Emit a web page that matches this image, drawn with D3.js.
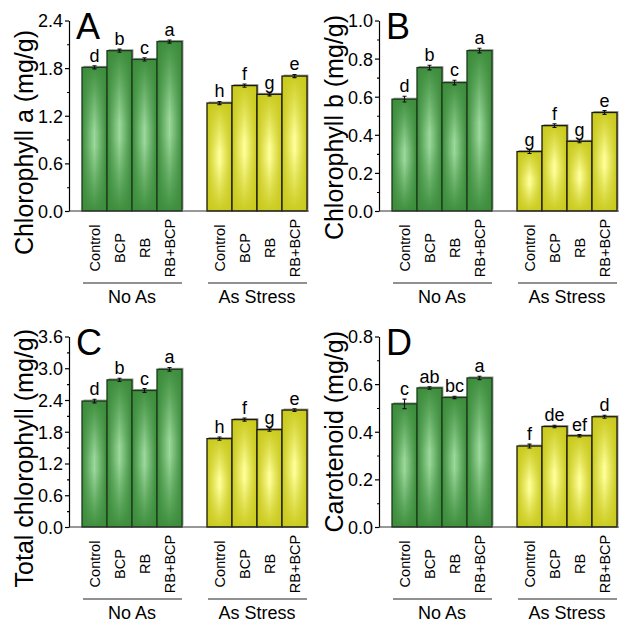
<!DOCTYPE html>
<html>
<head>
<meta charset="utf-8">
<script src="https://d3js.org/d3.v7.min.js"></script>
<style>
    body { margin: 0; background: #fff; }
    text { font-family: "Liberation Sans", Arial, sans-serif; fill: #000; }
</style>
</head>
<body>
<script>
    // categories
    const groups = ["No As", "As Stress"];
    const treatments = ["Control", "BCP", "RB", "RB+BCP"];

    // values (No As x4, then As Stress x4)
    const chlA = [1.81, 2.02, 1.91, 2.135, 1.36, 1.58, 1.47, 1.70];
    const chlAErr = [0.02, 0.02, 0.02, 0.02, 0.02, 0.02, 0.02, 0.02];
    const chlALetters = ["d", "b", "c", "a", "h", "f", "g", "e"];

    const chlB = [0.587, 0.753, 0.674, 0.842, 0.312, 0.448, 0.366, 0.517];
    const chlBErr = [0.015, 0.012, 0.012, 0.012, 0.01, 0.01, 0.008, 0.01];
    const chlBLetters = ["d", "b", "c", "a", "g", "f", "g", "e"];

    const chlT = [2.38, 2.78, 2.58, 2.98, 1.67, 2.03, 1.84, 2.21];
    const chlTErr = [0.035, 0.03, 0.035, 0.035, 0.03, 0.03, 0.03, 0.025];
    const chlTLetters = ["d", "b", "c", "a", "h", "f", "g", "e"];

    const carot = [0.517, 0.584, 0.544, 0.626, 0.340, 0.422, 0.383, 0.463];
    const carotErr = [0.02, 0.005, 0.005, 0.007, 0.008, 0.005, 0.005, 0.006];
    const carotLetters = ["c", "ab", "bc", "a", "f", "de", "ef", "d"];

    const panels = [
        { tag: "A", title: "Chlorophyll a (mg/g)", max: 2.4, step: 0.6, vals: chlA, errs: chlAErr, lets: chlALetters, ox: 0, oy: 0, titleEnd: 30 },
        { tag: "B", title: "Chlorophyll b (mg/g)", max: 1.0, step: 0.2, vals: chlB, errs: chlBErr, lets: chlBLetters, ox: 310, oy: 0, titleEnd: 15 },
        { tag: "C", title: "Total chlorophyll (mg/g)", max: 3.6, step: 0.6, vals: chlT, errs: chlTErr, lets: chlTLetters, ox: 0, oy: 316, titleEnd: 13 },
        { tag: "D", title: "Carotenoid (mg/g)", max: 0.8, step: 0.2, vals: carot, errs: carotErr, lets: carotLetters, ox: 310, oy: 316, titleEnd: 15 }
    ];

    const width = 626, height = 626;
    const axisX = 69, plotTop = 20.5, plotBottom = 211, axisEnd = 309;

    const svg = d3.select("body").append("svg")
        .attr("width", width)
        .attr("height", height);

    const defs = svg.append("defs");

    function gradients(id, dark, light) {
        let h = defs.append("linearGradient").attr("id", id + "H")
            .attr("x1", 0).attr("x2", 1).attr("y1", 0).attr("y2", 0);
        h.append("stop").attr("offset", "0%").attr("stop-color", dark);
        h.append("stop").attr("offset", "50%").attr("stop-color", light);
        h.append("stop").attr("offset", "100%").attr("stop-color", dark);

        let v = defs.append("linearGradient").attr("id", id + "V")
            .attr("x1", 0).attr("x2", 0).attr("y1", 0).attr("y2", 1);
        v.append("stop").attr("offset", "0%").attr("stop-color", dark).attr("stop-opacity", 0.95);
        v.append("stop").attr("offset", "45%").attr("stop-color", dark).attr("stop-opacity", 0);
        v.append("stop").attr("offset", "55%").attr("stop-color", dark).attr("stop-opacity", 0);
        v.append("stop").attr("offset", "100%").attr("stop-color", dark).attr("stop-opacity", 0.95);
    }
    gradients("green", "#3b8c3b", "#9bd89b");
    gradients("yellow", "#c9c91c", "#ffff9a");

    const x0 = d3.scaleBand().domain(groups).range([82, 307]).paddingInner(0.2);
    const x1 = d3.scaleBand().domain(treatments).range([0, x0.bandwidth()]);

    panels.forEach(p => {
        let g = svg.append("g").attr("transform", `translate(${p.ox},${p.oy})`);
        let y = d3.scaleLinear().domain([0, p.max]).range([plotBottom, plotTop]);

        let data = p.vals.map((v, i) => ({
            group: groups[Math.floor(i / 4)],
            treat: treatments[i % 4],
            v: v, e: p.errs[i], l: p.lets[i], gi: Math.floor(i / 4)
        }));
        let bx = d => x0(d.group) + x1(d.treat);
        let bw = x1.bandwidth();

        // shadow
        g.append("g").selectAll("rect")
            .data(data)
            .join("rect")
                .attr("x", d => bx(d) + 1.5)
                .attr("y", d => y(d.v) - 1.5)
                .attr("width", bw)
                .attr("height", d => plotBottom - y(d.v))
                .attr("fill", "#a0a0a0");

        let bars = g.append("g").selectAll("g")
            .data(data)
            .join("g");

        bars.append("rect")
            .attr("x", bx)
            .attr("y", d => y(d.v))
            .attr("width", bw)
            .attr("height", d => plotBottom - y(d.v))
            .attr("fill", d => d.gi == 0 ? "url(#greenH)" : "url(#yellowH)");

        bars.append("rect")
            .attr("x", bx)
            .attr("y", d => y(d.v))
            .attr("width", bw)
            .attr("height", d => plotBottom - y(d.v))
            .attr("fill", d => d.gi == 0 ? "url(#greenV)" : "url(#yellowV)")
            .attr("stroke", d => d.gi == 0 ? "#1d3a1d" : "#1a1a0a")
            .attr("stroke-width", 1.3);

        // error bars
        bars.append("path")
            .attr("d", d => {
                let cx = bx(d) + bw / 2, y1 = y(d.v + d.e), y2 = y(d.v - d.e);
                return `M${cx - 2},${y1}H${cx + 2}M${cx},${y1}V${y2}M${cx - 2},${y2}H${cx + 2}`;
            })
            .attr("stroke", "#111")
            .attr("stroke-width", 1.1)
            .attr("fill", "none");

        bars.append("text")
            .attr("x", d => bx(d) + bw / 2)
            .attr("y", d => y(d.v + d.e) - 4)
            .attr("text-anchor", "middle")
            .style("font-size", "18px")
            .text(d => d.l);

        // y axis
        let yAxis = g.append("g")
            .attr("transform", `translate(${axisX},0)`)
            .call(d3.axisLeft(y)
                .tickValues(d3.range(0, p.max + 1e-9, p.step))
                .tickFormat(d3.format(".1f"))
                .tickSize(4)
                .tickSizeOuter(0)
                .tickPadding(2));
        yAxis.selectAll("text").style("font-size", "18px").attr("dy", "0.36em");
        yAxis.selectAll("line, path").attr("stroke", "#000").attr("stroke-width", 1.2);

        g.append("g")
            .attr("transform", `translate(${axisX},0)`)
            .call(d3.axisLeft(y)
                .tickValues(d3.range(p.step / 2, p.max, p.step))
                .tickFormat("")
                .tickSize(2)
                .tickSizeOuter(0))
            .call(a => a.select(".domain").remove())
            .selectAll("line").attr("stroke", "#000").attr("stroke-width", 1.1);

        // x axis line
        g.append("line")
            .attr("x1", axisX).attr("x2", axisEnd)
            .attr("y1", plotBottom).attr("y2", plotBottom)
            .attr("stroke", "#333").attr("stroke-width", 1.2);

        // category labels
        g.append("g").selectAll("text")
            .data(data)
            .join("text")
                .attr("transform", d => `translate(${bx(d) + bw / 2},248) rotate(-90)`)
                .attr("text-anchor", "middle")
                .attr("dy", "0.35em")
                .style("font-size", "14.5px")
                .text(d => d.treat);

        // group lines and labels
        let gl = g.append("g").selectAll("g")
            .data(groups)
            .join("g");
        gl.append("line")
            .attr("x1", d => x0(d) + 1)
            .attr("x2", d => x0(d) + x0.bandwidth())
            .attr("y1", 283).attr("y2", 283)
            .attr("stroke", "#222").attr("stroke-width", 1);
        gl.append("text")
            .attr("x", d => x0(d) + x0.bandwidth() / 2)
            .attr("y", 303)
            .attr("text-anchor", "middle")
            .style("font-size", "18px")
            .text(d => d);

        // y title
        g.append("text")
            .attr("transform", `translate(33,${p.titleEnd}) rotate(-90)`)
            .attr("text-anchor", "end")
            .style("font-size", "25px")
            .text(p.title);

        // panel tag
        g.append("text")
            .attr("x", 76)
            .attr("y", 39)
            .style("font-size", "36px")
            .text(p.tag);
    });
</script>
</body>
</html>
